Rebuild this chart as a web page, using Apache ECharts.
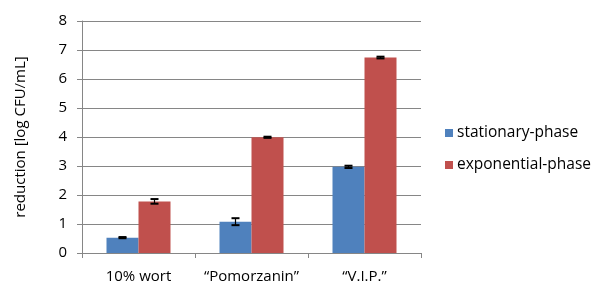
<!DOCTYPE html>
<html><head><meta charset="utf-8">
<script src="https://cdn.jsdelivr.net/npm/echarts@6/dist/echarts.min.js"></script>
<style>html,body{margin:0;padding:0;background:#fff}#c{width:598px;height:285px}</style>
</head><body><div id="c"></div>
<script>
const categories = ['10% wort', '\u201cPomorzanin\u201d', '\u201cV.I.P.\u201d'];
const seriesNames = ['stationary-phase', 'exponential-phase'];
const stationary = [0.53, 1.08, 2.97];
const stationaryErr = [0.02, 0.12, 0.04];
const exponential = [1.78, 3.99, 6.74];
const exponentialErr = [0.08, 0.02, 0.03];
const yTicks = [0, 1, 2, 3, 4, 5, 6, 7, 8];
const colors = ['#4F81BD', '#C0504D'];

const FONT = 'Open Sans, Liberation Sans, sans-serif';
const chart = echarts.init(document.getElementById('c'));
function errSeries(vals, errs, offset) {
  return {
    type: 'custom', z: 10, silent: true,
    data: vals.map((v, i) => [i, v, errs[i]]),
    renderItem: function (params, api) {
      const i = api.value(0), v = api.value(1), e = api.value(2);
      const top = api.coord([i, v + e]);
      const bot = api.coord([i, v - e]);
      const x = top[0] + offset;
      const hw = 4;
      const st = { stroke: '#000', lineWidth: 2 };
      return { type: 'group', children: [
        { type: 'line', shape: { x1: x, y1: top[1], x2: x, y2: bot[1] }, style: { stroke: '#000', lineWidth: 1.2 } },
        { type: 'line', shape: { x1: x - hw, y1: top[1], x2: x + hw, y2: top[1] }, style: st },
        { type: 'line', shape: { x1: x - hw, y1: bot[1], x2: x + hw, y2: bot[1] }, style: st }
      ]};
    }
  };
}
chart.setOption({
  animation: false,
  grid: { left: 82, right: 177, top: 21, bottom: 32 },
  legend: {
    orient: 'vertical', left: 440, top: 120, itemGap: 16,
    itemWidth: 8, itemHeight: 8, icon: 'rect',
    textStyle: { fontFamily: FONT, fontSize: 15.5, color: '#000', padding: [0, 0, 0, -1] },
    data: seriesNames
  },
  xAxis: {
    type: 'category', data: categories,
    axisLine: { lineStyle: { color: '#868686' } },
    axisTick: { show: true, length: 5, lineStyle: { color: '#868686' } },
    axisLabel: { fontFamily: FONT, fontSize: 15, color: '#000', margin: 16, interval: 0, hideOverlap: false }
  },
  yAxis: {
    type: 'value', min: yTicks[0], max: yTicks[yTicks.length - 1], interval: 1,
    name: 'reduction [log CFU/mL]', nameLocation: 'middle', nameGap: 54,
    nameTextStyle: { fontFamily: FONT, fontSize: 15, color: '#000' },
    axisLine: { show: true, lineStyle: { color: '#868686' } },
    axisTick: { show: true, length: 5, lineStyle: { color: '#868686' } },
    axisLabel: { fontFamily: FONT, fontSize: 15, color: '#000', margin: 15 },
    splitLine: { lineStyle: { color: '#868686', width: 1 } }
  },
  series: [
    { name: seriesNames[0], type: 'bar', data: stationary, barWidth: 32, barGap: '0%', itemStyle: { color: colors[0] } },
    { name: seriesNames[1], type: 'bar', data: exponential, barWidth: 32, barGap: '0%', itemStyle: { color: colors[1] } },
    errSeries(stationary, stationaryErr, -16),
    errSeries(exponential, exponentialErr, 16)
  ]
});
</script></body></html>
